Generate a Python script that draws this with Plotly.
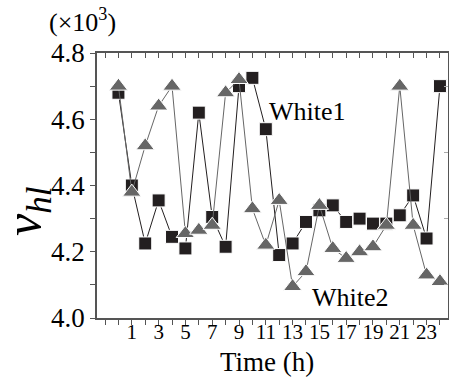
import plotly.graph_objects as go

hours = list(range(0, 25))
white1 = [4.68, 4.40, 4.225, 4.355, 4.245, 4.21, 4.62, 4.305, 4.215, 4.70, 4.725,
          4.57, 4.19, 4.225, 4.29, 4.325, 4.34, 4.29, 4.30, 4.285, 4.285, 4.31,
          4.37, 4.24, 4.70]
white2 = [4.70, 4.38, 4.52, 4.64, 4.70, 4.255, 4.265, 4.28, 4.68, 4.72, 4.33,
          4.22, 4.355, 4.095, 4.14, 4.34, 4.21, 4.18, 4.20, 4.215, 4.28, 4.70,
          4.28, 4.13, 4.11]
x_tick_vals = list(range(-1, 25))
x_tick_labels = [str(v) if (v > 0 and v % 2 == 1) else "" for v in x_tick_vals]
y_tick_vals = [4.0, 4.2, 4.4, 4.6, 4.8]
y_tick_labels = ["4.0", "4.2", "4.4", "4.6", "4.8"]

W, H = 449, 379
L, R, T, B = 97, 448, 53, 318
FONT = "Liberation Serif, Times New Roman, serif"

fig = go.Figure()
fig.add_trace(go.Scatter(
    x=hours, y=white1, mode="lines+markers", name="White1",
    line=dict(color="#231f20", width=1),
    marker=dict(symbol="square", size=13, color="#231f20",
                line=dict(color="#ffffff", width=1)),
))
fig.add_trace(go.Scatter(
    x=hours, y=white2, mode="lines+markers", name="White2",
    line=dict(color="#666666", width=1),
    marker=dict(symbol="triangle-up", size=16, color="#666666",
                line=dict(color="#ffffff", width=1)),
))

axis_color = "#555555"
y_minor = [4.0, 4.1, 4.2, 4.3, 4.4, 4.5, 4.6, 4.7, 4.8]
y_text = []
for v in y_minor:
    y_text.append(y_tick_labels[y_tick_vals.index(v)] if v in y_tick_vals else "")

fig.update_layout(
    width=W, height=H,
    margin=dict(l=L, r=W - R, t=T, b=H - B, pad=0),
    plot_bgcolor="white", paper_bgcolor="white",
    showlegend=False,
    font=dict(family=FONT, color="black"),
    xaxis=dict(
        range=[-1.6, 24.6], tickmode="array", tickvals=x_tick_vals,
        ticktext=x_tick_labels, ticks="outside", ticklen=5, tickwidth=1,
        tickcolor=axis_color, showline=True, linecolor=axis_color, linewidth=1.5,
        showgrid=False, zeroline=False, ticklabelstandoff=-11,
        tickfont=dict(size=21, family=FONT, color="black"),
    ),
    yaxis=dict(
        range=[4.0, 4.8], tickmode="array", tickvals=y_minor, ticktext=y_text,
        ticks="outside", ticklen=5, tickwidth=1, tickcolor=axis_color,
        showline=True, linecolor=axis_color, linewidth=1.5,
        showgrid=False, zeroline=False,
        tickfont=dict(size=27, family=FONT, color="black"),
    ),
    xaxis2=dict(
        overlaying="x", side="top", matches="x", range=[-1.6, 24.6],
        tickmode="array", tickvals=x_tick_vals, showticklabels=False,
        ticks="inside", ticklen=5, tickcolor=axis_color, showline=True,
        linecolor=axis_color, linewidth=1.5, showgrid=False, zeroline=False,
    ),
    yaxis2=dict(
        overlaying="y", side="right", range=[4.0, 4.8], tickmode="array",
        tickvals=[4.1, 4.3, 4.5, 4.7], showticklabels=False, ticks="inside",
        ticklen=4, tickcolor="#aaaaaa", showline=True, linecolor=axis_color,
        linewidth=1.5, showgrid=False, zeroline=False,
    ),
)
fig.add_trace(go.Scatter(x=[None], y=[None], xaxis="x2", yaxis="y2",
                         showlegend=False, hoverinfo="skip"))


def px_x(p):
    return (p - L) / (R - L)


def px_y(p):
    return (B - p) / (B - T)


annotations = [
    dict(text="White1", x=px_x(307), y=px_y(112), font=dict(size=26)),
    dict(text="White2", x=px_x(350), y=px_y(297), font=dict(size=26)),
    dict(text="Time (h)", x=px_x(267), y=px_y(362), font=dict(size=27)),
    dict(text="(×10<sup>3</sup>)", x=px_x(82), y=px_y(20), font=dict(size=26)),
    dict(text="<i>v</i><sub><i>hl</i></sub>", x=px_x(27), y=px_y(212),
         textangle=-90, font=dict(size=50)),
]
for a in annotations:
    f = dict(family=FONT, color="black")
    f.update(a.pop("font"))
    fig.add_annotation(xref="paper", yref="paper", showarrow=False,
                       xanchor="center", yanchor="middle", font=f, **a)

fig.write_html("out.html")
